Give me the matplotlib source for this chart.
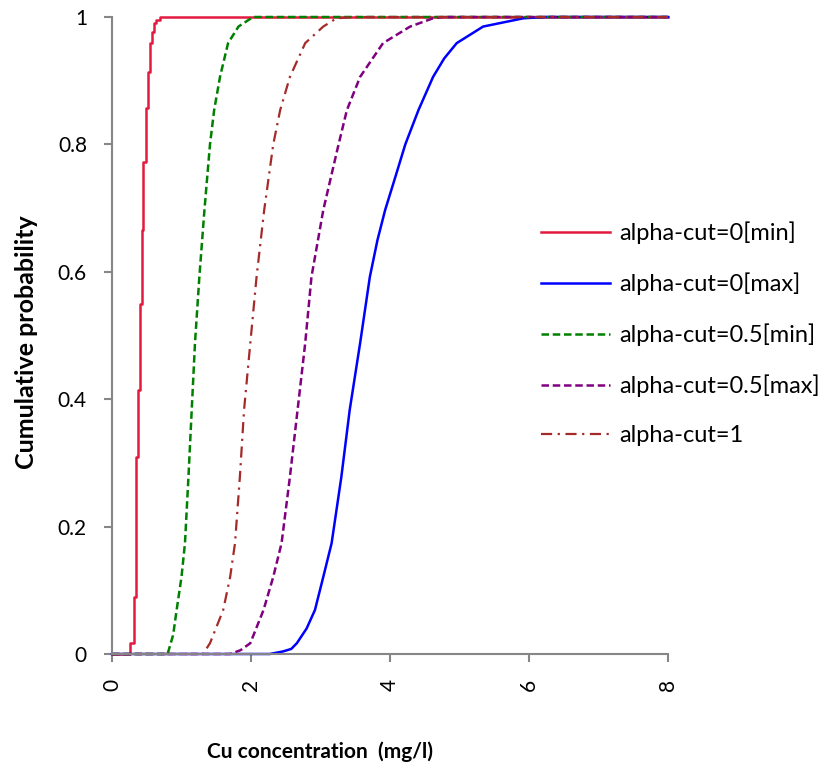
import matplotlib.pyplot as plt

plt.rcParams['font.family'] = ['Lato', 'DejaVu Sans']

# empirical CDF readings: x (mg/l) and cumulative probability
red_x = [0.0, 0.26, 0.31, 0.345, 0.38, 0.40, 0.43, 0.45, 0.485, 0.52, 0.55, 0.58, 0.61, 0.64, 0.69, 8.0]
red_p = [0.0, 0.017, 0.09, 0.31, 0.414, 0.55, 0.666, 0.773, 0.857, 0.914, 0.959, 0.977, 0.99, 0.996, 1.0, 1.0]

blue_x = [0.0, 2.27, 2.46, 2.58, 2.66, 2.80, 2.92, 3.04, 3.16, 3.30, 3.42, 3.57, 3.71, 3.82, 3.93, 4.08, 4.22, 4.41, 4.62, 4.78, 4.96, 5.34, 5.92, 6.25, 8.0]
blue_p = [0.0, 0.0, 0.004, 0.008, 0.017, 0.040, 0.069, 0.121, 0.174, 0.278, 0.383, 0.488, 0.592, 0.65, 0.697, 0.75, 0.80, 0.854, 0.906, 0.935, 0.959, 0.985, 0.998, 1.0, 1.0]

green_x = [0.0, 0.80, 0.88, 0.93, 1.00, 1.05, 1.10, 1.147, 1.194, 1.257, 1.33, 1.41, 1.47, 1.554, 1.67, 1.82, 2.03, 8.0]
green_p = [0.0, 0.0, 0.030, 0.069, 0.121, 0.174, 0.278, 0.383, 0.488, 0.592, 0.697, 0.80, 0.854, 0.906, 0.959, 0.985, 1.0, 1.0]

purple_x = [0.0, 1.70, 1.85, 1.99, 2.18, 2.32, 2.44, 2.56, 2.67, 2.78, 2.87, 3.04, 3.26, 3.38, 3.57, 3.90, 4.29, 4.62, 4.75, 8.0]
purple_p = [0.0, 0.0, 0.006, 0.017, 0.069, 0.121, 0.174, 0.278, 0.383, 0.488, 0.592, 0.697, 0.80, 0.854, 0.906, 0.959, 0.985, 0.998, 1.0, 1.0]

brown_x = [0.0, 1.31, 1.41, 1.60, 1.70, 1.77, 1.84, 1.90, 1.99, 2.08, 2.19, 2.32, 2.42, 2.56, 2.78, 3.04, 3.23, 3.50, 8.0]
brown_p = [0.0, 0.0, 0.017, 0.069, 0.121, 0.174, 0.278, 0.383, 0.488, 0.592, 0.697, 0.80, 0.854, 0.906, 0.959, 0.985, 0.998, 1.0, 1.0]

labels = ["alpha-cut=0[min]", "alpha-cut=0[max]", "alpha-cut=0.5[min]",
          "alpha-cut=0.5[max]", "alpha-cut=1"]
x_ticks = [0, 2, 4, 6, 8]
y_ticks = [0, 0.2, 0.4, 0.6, 0.8, 1]
y_ticklabels = ["0", "0.2", "0.4", "0.6", "0.8", "1"]

fig = plt.figure(figsize=(8.28, 7.67), dpi=100)
ax = fig.add_axes([112 / 828, 113 / 767, 556 / 828, 637 / 767])

ax.plot(red_x, red_p, color="#E31A3F", lw=1.8, drawstyle="steps-post", label=labels[0], clip_on=False)
ax.plot(blue_x, blue_p, color="#0000FF", lw=1.8, label=labels[1], clip_on=False)
ax.plot(green_x, green_p, color="#008000", lw=1.8, linestyle=(0, (3, 1.5)), label=labels[2], clip_on=False)
ax.plot(purple_x, purple_p, color="#800080", lw=1.8, linestyle=(0, (3, 1.5)), label=labels[3], clip_on=False)
ax.plot(brown_x, brown_p, color="#A52A2A", lw=1.6, linestyle=(0, (5, 2.5, 1, 2.5)), label=labels[4], clip_on=False)

ax.set_xlim(0, 8)
ax.set_ylim(0, 1)
ax.set_xticks(x_ticks)
ax.set_xticklabels([str(t) for t in x_ticks], rotation=90)
ax.set_yticks(y_ticks)
ax.set_yticklabels(y_ticklabels)

for side in ["top", "right"]:
    ax.spines[side].set_visible(False)
for side in ["left", "bottom"]:
    ax.spines[side].set_color("#868686")
    ax.spines[side].set_linewidth(1.5)
ax.tick_params(colors="#868686", labelcolor="black", labelsize=15, length=6, width=1.5, pad=12)

fig.text(27 / 828, 1 - 342 / 767, "Cumulative probability", rotation=90, ha="center", va="center",
         fontsize=18, fontweight="bold")
fig.text(320 / 828, 1 - 752 / 767, "Cu concentration  (mg/l)", ha="center", va="center",
         fontsize=15, fontweight="bold")

ax.legend(loc="upper left", bbox_to_anchor=(532 / 828, 1 - 212 / 767), bbox_transform=fig.transFigure,
          frameon=False, fontsize=17, handlelength=2.9, handletextpad=0.4, labelspacing=1.2,
          borderaxespad=0)

fig.savefig("out.png", dpi=100)
